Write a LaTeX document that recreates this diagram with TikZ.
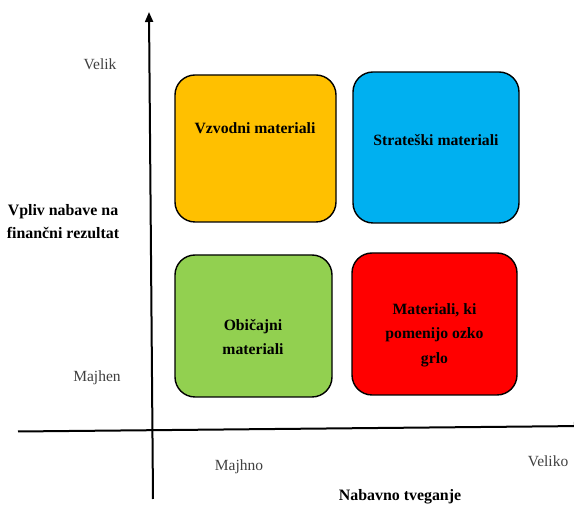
\documentclass[tikz,border=0pt]{standalone}
\usepackage{fontspec}
\setmainfont{Liberation Serif}
\usetikzlibrary{arrows.meta}
\definecolor{qorange}{HTML}{FFC000}
\definecolor{qblue}{HTML}{00B0F0}
\definecolor{qgreen}{HTML}{92D050}
\definecolor{qred}{HTML}{FF0000}
\definecolor{axislabel}{HTML}{404040}
\begin{document}
\begin{tikzpicture}[x=1pt,y=-1pt,
  quadbox/.style={draw=black, line width=1.4pt, rounded corners=20pt, inner sep=0pt},
  boxtext/.style={font=\fontsize{15.7}{24.5}\selectfont\bfseries, align=center, text=black},
  ticktext/.style={font=\fontsize{15.5}{24}\selectfont, text=axislabel},
  axistitle/.style={font=\fontsize{15.9}{23}\selectfont\bfseries, align=center},
  axisline/.style={line width=2pt, draw=black}]
\useasboundingbox (0,0) rectangle (574,510);
% axes
\coordinate (yb) at (153,499);
\coordinate (yt) at (149,12);
\coordinate (xl) at (18,431.5);
\coordinate (xr) at (584,426);
\draw[axisline, -{Triangle[length=10pt,width=8pt]}] (yb) -- (yt);
\draw[axisline, -{Triangle[length=10pt,width=8pt]}] (xl) -- (xr);
% quadrant boxes
\node[quadbox, fill=qorange, minimum width=161pt, minimum height=147pt] (lev) at (255.5,148.5) {};
\node[quadbox, fill=qblue, minimum width=166pt, minimum height=151pt] (str) at (436,147.5) {};
\node[quadbox, fill=qgreen, minimum width=157pt, minimum height=142pt] (rou) at (253.5,326) {};
\node[quadbox, fill=qred, minimum width=165pt, minimum height=142pt] (bot) at (434.5,324) {};
% box labels
\node[boxtext] (levt) at (255,128) {Vzvodni materiali};
\node[boxtext] (strt) at (436,140) {Strateški materiali};
\node[boxtext] (rout) at (253,337) {Običajni\\materiali};
\node[boxtext] (bott) at (434.5,335) {Materiali, ki\\pomenijo ozko\\grlo};
% axis labels
\node[ticktext] (velik) at (100,64) {Velik};
\node[ticktext] (majhen) at (97,378) {Majhen};
\node[ticktext] (majhno) at (239,467) {Majhno};
\node[ticktext] (veliko) at (548,461) {Veliko};
\node[axistitle] (ytitle) at (63,222) {Vpliv nabave na\\finančni rezultat};
\node[axistitle] (xtitle) at (400,497) {Nabavno tveganje};
\end{tikzpicture}
\end{document}
